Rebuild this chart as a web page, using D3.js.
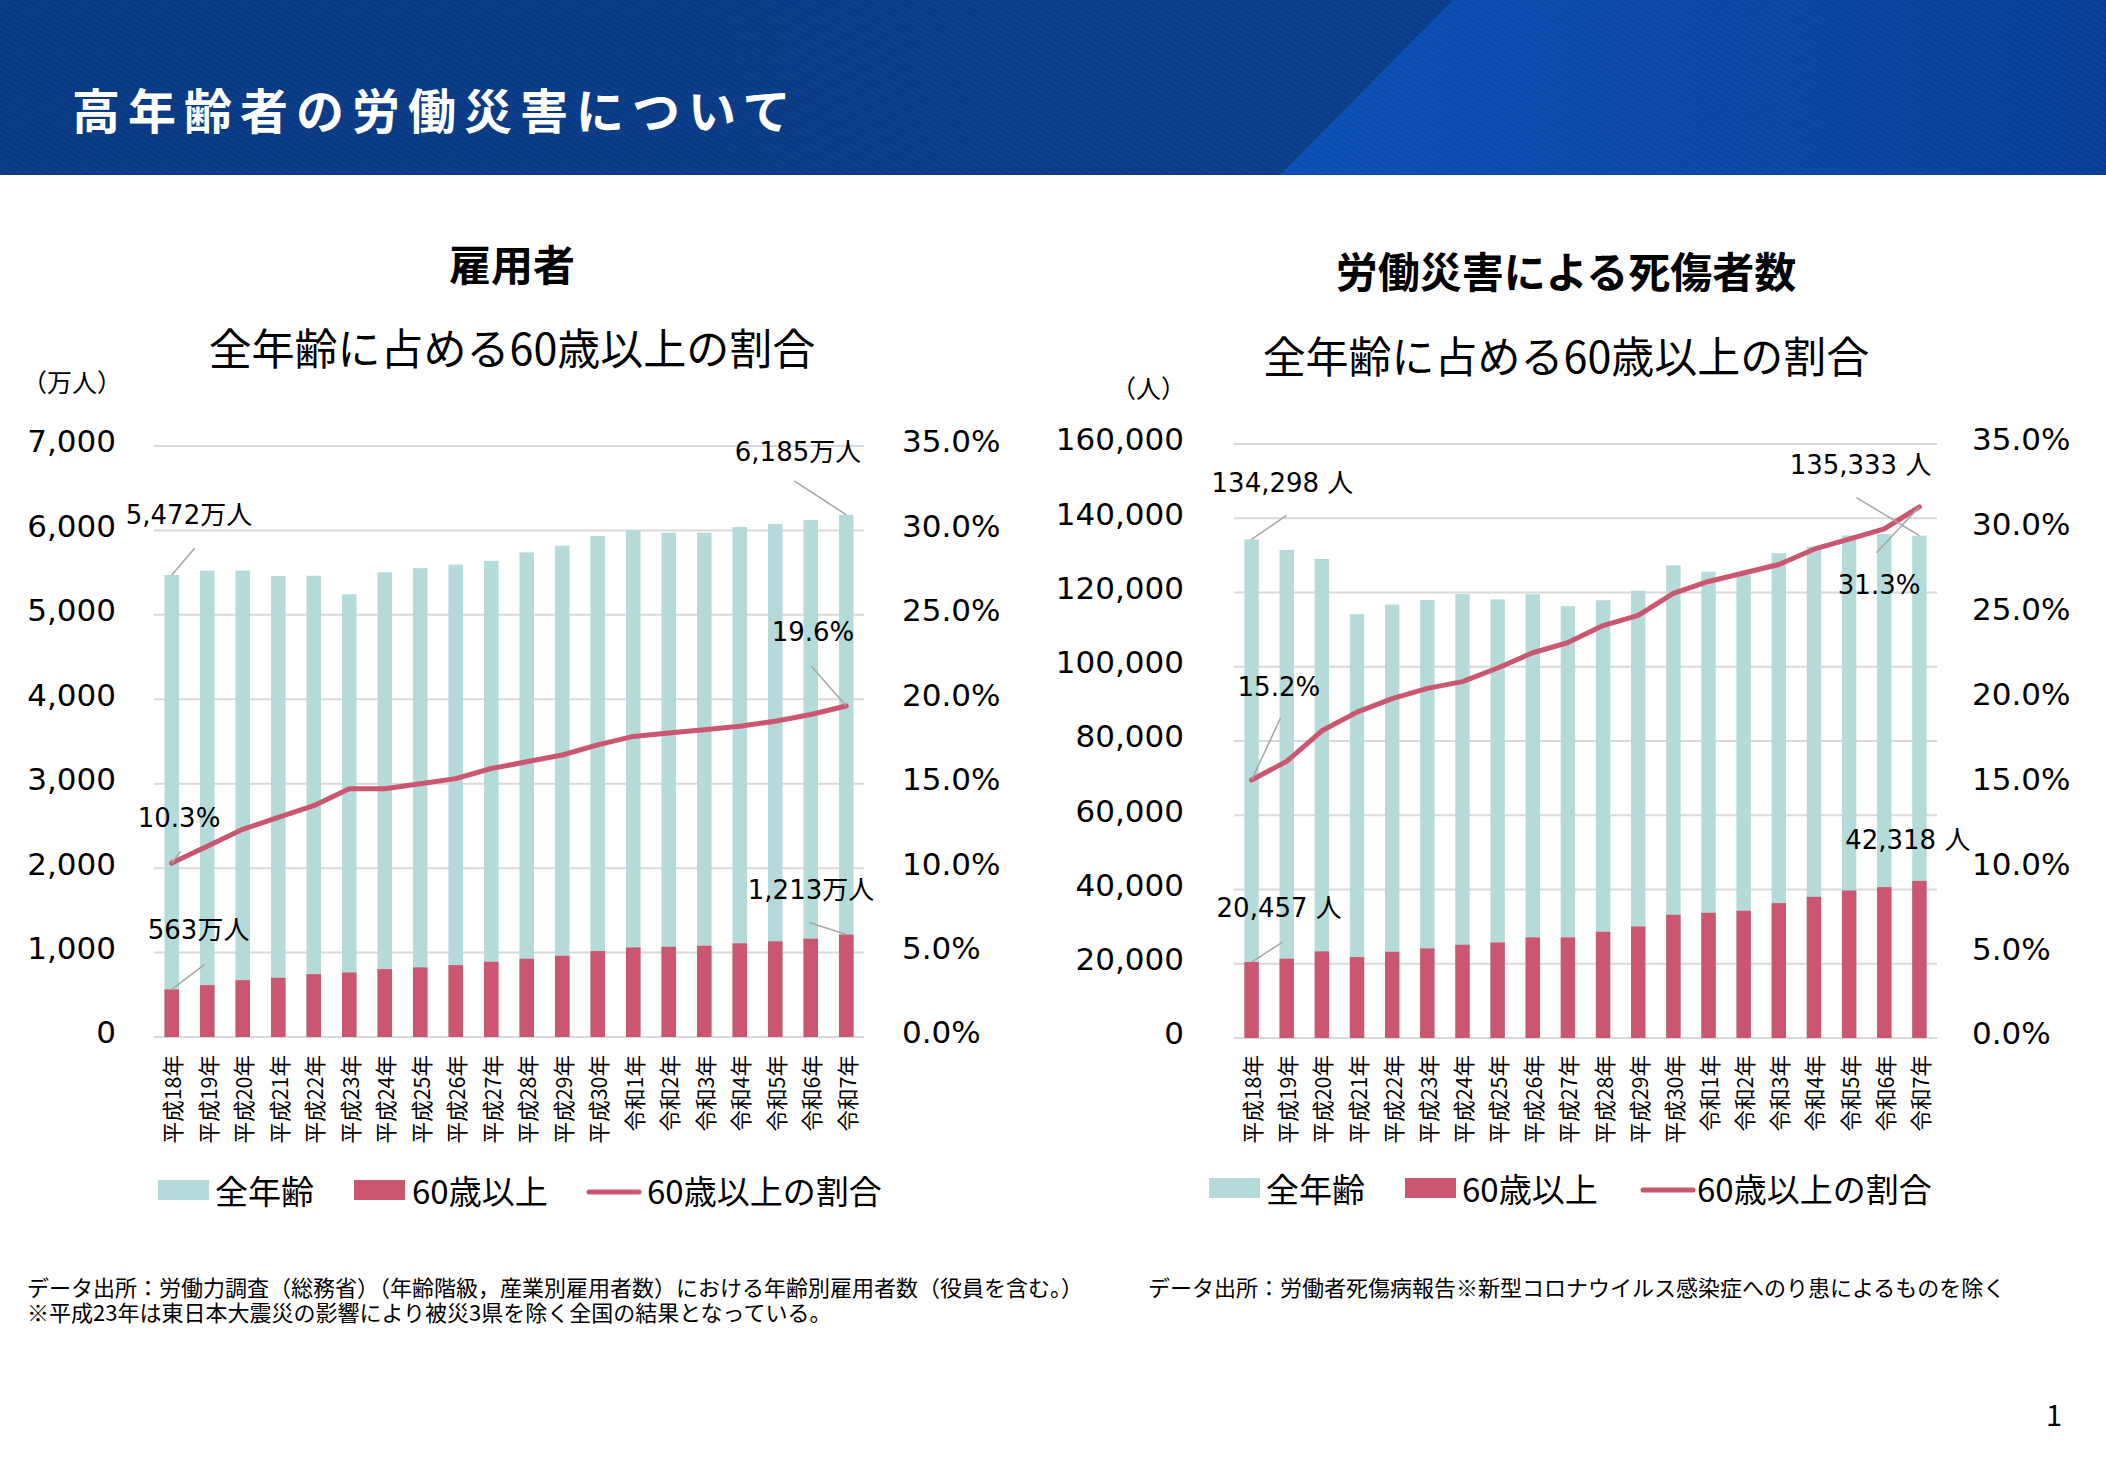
<!DOCTYPE html>
<html><head><meta charset="utf-8">
<script src="https://cdn.jsdelivr.net/npm/d3@7"></script>
<style>body{margin:0;background:#fff;} svg{display:block;}</style>
</head><body><svg id="c" width="2106" height="1466"></svg>
<script>
// ---------- DATA ----------
const categories = ["平成18年","平成19年","平成20年","平成21年","平成22年","平成23年","平成24年","平成25年","平成26年","平成27年","平成28年","平成29年","平成30年","令和1年","令和2年","令和3年","令和4年","令和5年","令和6年","令和7年"];

// 雇用者 (万人)
const employeesAll = [5472, 5523, 5524, 5460, 5463, 5244, 5504, 5553, 5595, 5640, 5740, 5819, 5936, 6004, 5973, 5973, 6041, 6076, 6123, 6185];
const employees60 = [563, 614, 673, 701, 744, 764, 804, 824, 851, 891, 927, 962, 1018, 1061, 1069, 1081, 1109, 1133, 1164, 1213];
const employeesRatio = [10.3, 11.3, 12.3, 13.0, 13.7, 14.7, 14.7, 15.0, 15.3, 15.9, 16.3, 16.7, 17.3, 17.8, 18.0, 18.2, 18.4, 18.7, 19.1, 19.6];

// 労働災害による死傷者数 (人)
const injuriesAll = [134298, 131478, 129026, 114152, 116733, 117958, 119576, 118157, 119535, 116311, 117910, 120460, 127329, 125611, 124800, 130586, 132355, 135371, 135718, 135333];
const injuries60 = [20457, 21350, 23320, 21800, 23230, 24130, 25120, 25740, 27090, 27090, 28610, 30050, 33190, 33730, 34270, 36330, 38030, 39740, 40630, 42318];
const injuriesRatio = [15.2, 16.3, 18.1, 19.2, 20.0, 20.6, 21.0, 21.8, 22.7, 23.3, 24.3, 24.9, 26.2, 26.9, 27.4, 27.9, 28.8, 29.4, 30.0, 31.3];

const legendLabels = ["全年齢", "60歳以上", "60歳以上の割合"];
const leftTicksEmp = [0,1000,2000,3000,4000,5000,6000,7000];
const leftTicksInj = [0,20000,40000,60000,80000,100000,120000,140000,160000];
const rightTicks = [0,5,10,15,20,25,30,35];

// ---------- STYLE ----------
const TEAL = "#b5dada";
const RED = "#cb5670";
const GRID = "#d9d9d9";
const LEADER = "#a6a6a6";
const NUMFONT = "'DejaVu Sans', 'Noto Sans CJK JP', sans-serif";
const JPFONT = "'Noto Sans CJK JP', sans-serif";

const svg = d3.select("#c");
const defs = svg.append("defs");

// header
const g1 = defs.append("linearGradient").attr("id","hdrL").attr("x1","0").attr("x2","1").attr("y1","0").attr("y2","0");
g1.append("stop").attr("offset","0%").attr("stop-color","#093a84");
g1.append("stop").attr("offset","100%").attr("stop-color","#0a3d8d");
const g2 = defs.append("linearGradient").attr("id","hdrR").attr("x1","0").attr("x2","1").attr("y1","0").attr("y2","0");
g2.append("stop").attr("offset","0%").attr("stop-color","#0b4fb5");
g2.append("stop").attr("offset","55%").attr("stop-color","#0947a6");
g2.append("stop").attr("offset","100%").attr("stop-color","#073e95");
const pat = defs.append("pattern").attr("id","stripes").attr("width",5).attr("height",5)
  .attr("patternUnits","userSpaceOnUse").attr("patternTransform","rotate(-60)");
pat.append("line").attr("x1",0).attr("y1",0).attr("x2",0).attr("y2",5).attr("stroke","#ffffff").attr("stroke-opacity",0.04).attr("stroke-width",2);

svg.append("rect").attr("x",0).attr("y",0).attr("width",2106).attr("height",175).attr("fill","url(#hdrL)");
svg.append("polygon").attr("points","1453,0 2106,0 2106,175 1280,175").attr("fill","url(#hdrR)");
svg.append("rect").attr("x",0).attr("y",0).attr("width",2106).attr("height",175).attr("fill","url(#stripes)");
svg.append("text").attr("x",72).attr("y",108).attr("dominant-baseline","central")
  .attr("font-family",JPFONT).attr("font-weight",700).attr("font-size",48)
  .attr("letter-spacing",8).attr("fill","#ffffff").text("高年齢者の労働災害について");

// ---------- CHART ----------
function drawChart(cfg) {
  const g = svg.append("g");
  const x = d3.scaleBand().domain(categories).range([cfg.x0, cfg.x1]).paddingInner(0.59).paddingOuter(0.295);
  const yL = d3.scaleLinear().domain([0, cfg.leftMax]).range([cfg.yBottom, cfg.yTop]);
  const yR = d3.scaleLinear().domain([0, 35]).range([cfg.yBottom, cfg.yTop]);
  const cx = c => x(c) + x.bandwidth()/2;

  // titles
  g.append("text").attr("x", cfg.titleX).attr("y", cfg.titleY).attr("text-anchor","middle").attr("dominant-baseline","central")
    .attr("font-family",JPFONT).attr("font-weight",700).attr("font-size",42).attr("fill","#000").text(cfg.title);
  g.append("text").attr("x", cfg.titleX).attr("y", cfg.subtitleY).attr("text-anchor","middle").attr("dominant-baseline","central")
    .attr("font-family",JPFONT).attr("font-size",43).attr("fill","#000").text("全年齢に占める60歳以上の割合");
  g.append("text").attr("x", cfg.unitX).attr("y", cfg.unitY).attr("text-anchor", cfg.unitAnchor).attr("dominant-baseline","central")
    .attr("font-family",JPFONT).attr("font-size",25).attr("fill","#000").text(cfg.unit);

  // grid
  g.append("g").selectAll("line").data(cfg.leftTicks).join("line")
    .attr("x1", cfg.x0).attr("x2", cfg.x1).attr("y1", d => yL(d)).attr("y2", d => yL(d))
    .attr("stroke", GRID).attr("stroke-width", 2);

  // left axis labels
  const axL = d3.axisLeft(yL).tickValues(cfg.leftTicks).tickFormat(d3.format(",")).tickSize(0).tickPadding(0);
  const gL = g.append("g").attr("transform", `translate(${cfg.leftLabelX},0)`).call(axL);
  gL.select(".domain").remove();
  gL.selectAll("text").attr("font-family", NUMFONT).attr("font-size", 31).attr("fill","#000").attr("dy","0.32em")
    .attr("y", -4);

  // right axis labels
  const axR = d3.axisRight(yR).tickValues(rightTicks).tickFormat(d => d.toFixed(1) + "%").tickSize(0).tickPadding(0);
  const gR = g.append("g").attr("transform", `translate(${cfg.rightLabelX},0)`).call(axR);
  gR.select(".domain").remove();
  gR.selectAll("text").attr("font-family", NUMFONT).attr("font-size", 31).attr("fill","#000").attr("dy","0.32em")
    .attr("y", -4);

  // bars
  g.append("g").selectAll("rect").data(cfg.totals).join("rect")
    .attr("x", (d,i) => x(categories[i])).attr("width", x.bandwidth())
    .attr("y", d => yL(d)).attr("height", d => yL(0) - yL(d)).attr("fill", TEAL);
  g.append("g").selectAll("rect").data(cfg.seniors).join("rect")
    .attr("x", (d,i) => x(categories[i])).attr("width", x.bandwidth())
    .attr("y", d => yL(d)).attr("height", d => yL(0) - yL(d)).attr("fill", RED);

  // line
  const line = d3.line().x((d,i) => cx(categories[i])).y(d => yR(d));
  g.append("path").attr("d", line(cfg.ratios)).attr("fill","none").attr("stroke", RED)
    .attr("stroke-width", 5).attr("stroke-linejoin","round").attr("stroke-linecap","round");

  // x labels
  g.append("g").selectAll("text").data(categories).join("text")
    .attr("transform", c => `translate(${cx(c)},${cfg.xLabelY}) rotate(-90)`)
    .attr("text-anchor","end").attr("dominant-baseline","central")
    .attr("font-family", JPFONT).attr("font-size", 21.5).attr("fill","#000").text(c => c);

  // annotations
  cfg.annotations.forEach(a => {
    const arr = a.series === "total" ? cfg.totals : a.series === "senior" ? cfg.seniors : cfg.ratios;
    const v = arr[a.i];
    const px = cx(categories[a.i]);
    const py = a.series === "ratio" ? yR(v) : yL(v);
    const txt = a.series === "ratio" ? v.toFixed(1) + "%" : d3.format(",")(v) + cfg.suffix;
    if (a.lx !== undefined) {
      g.append("line").attr("x1", px + a.lx).attr("y1", py + a.ly).attr("x2", px).attr("y2", py)
        .attr("stroke", LEADER).attr("stroke-width", 1.5);
    }
    g.append("text").attr("x", px + a.dx).attr("y", py + a.dy).attr("text-anchor", a.anchor)
      .attr("dominant-baseline","central").attr("font-family", NUMFONT).attr("font-size", 26)
      .attr("fill","#000").text(txt);
  });

  // legend
  const L = cfg.legend;
  g.append("rect").attr("x", L.s1).attr("y", L.y - 10).attr("width", 51).attr("height", 20).attr("fill", TEAL);
  g.append("rect").attr("x", L.s2).attr("y", L.y - 10).attr("width", 51).attr("height", 20).attr("fill", RED);
  g.append("line").attr("x1", L.s3 + 2).attr("x2", L.s3 + 52).attr("y1", L.y + 2).attr("y2", L.y + 2)
    .attr("stroke", RED).attr("stroke-width", 5).attr("stroke-linecap","round");
  [[L.t1, legendLabels[0]], [L.t2, legendLabels[1]], [L.t3, legendLabels[2]]].forEach(([tx, label]) => {
    g.append("text").attr("x", tx).attr("y", L.y).attr("dominant-baseline","central")
      .attr("font-family", JPFONT).attr("font-size", 33).attr("fill","#000").text(label);
  });
}

drawChart({
  x0: 154, x1: 864, yTop: 446, yBottom: 1037, leftMax: 7000, leftTicks: leftTicksEmp,
  totals: employeesAll, seniors: employees60, ratios: employeesRatio, suffix: "万人",
  title: "雇用者", titleX: 512, titleY: 262, subtitleY: 346,
  unit: "（万人）", unitX: 22, unitAnchor: "start", unitY: 381,
  leftLabelX: 116, rightLabelX: 902, xLabelY: 1055,
  annotations: [
    {series:"total", i:0, anchor:"start", dx:-46, dy:-60, lx:23, ly:-27},
    {series:"total", i:19, anchor:"end", dx:15, dy:-63, lx:-52, ly:-34},
    {series:"ratio", i:19, anchor:"end", dx:8, dy:-74, lx:-35, ly:-40},
    {series:"ratio", i:0, anchor:"start", dx:-34, dy:-45, lx:9, ly:-12},
    {series:"senior", i:0, anchor:"start", dx:-24, dy:-59, lx:33, ly:-25},
    {series:"senior", i:19, anchor:"end", dx:28, dy:-45, lx:-37, ly:-12}
  ],
  legend: {y: 1190, s1: 158, t1: 215, s2: 354, t2: 412, s3: 587, t3: 647}
});

drawChart({
  x0: 1234, x1: 1937, yTop: 444, yBottom: 1038, leftMax: 160000, leftTicks: leftTicksInj,
  totals: injuriesAll, seniors: injuries60, ratios: injuriesRatio, suffix: " 人",
  title: "労働災害による死傷者数", titleX: 1566, titleY: 269, subtitleY: 354,
  unit: "（人）", unitX: 1186, unitAnchor: "end", unitY: 387,
  leftLabelX: 1184, rightLabelX: 1972, xLabelY: 1055,
  annotations: [
    {series:"total", i:0, anchor:"start", dx:-40, dy:-56, lx:35, ly:-24},
    {series:"total", i:19, anchor:"end", dx:12, dy:-71, lx:-63, ly:-38},
    {series:"ratio", i:19, anchor:"end", dx:1, dy:78, lx:-43, ly:46},
    {series:"ratio", i:0, anchor:"start", dx:-14, dy:-93, lx:29, ly:-62},
    {series:"senior", i:0, anchor:"start", dx:-35, dy:-54, lx:31, ly:-20},
    {series:"senior", i:19, anchor:"end", dx:51, dy:-41}
  ],
  legend: {y: 1188, s1: 1209, t1: 1266, s2: 1405, t2: 1462, s3: 1641, t3: 1697}
});

// footnotes
const notes = svg.append("g").attr("font-family", JPFONT).attr("font-size", 22).attr("fill", "#000");
notes.append("text").attr("x", 27).attr("y", 1286).attr("dominant-baseline","central")
  .text("データ出所：労働力調査（総務省）（年齢階級，産業別雇用者数）における年齢別雇用者数（役員を含む。）");
notes.append("text").attr("x", 27).attr("y", 1311).attr("dominant-baseline","central")
  .text("※平成23年は東日本大震災の影響により被災3県を除く全国の結果となっている。");
notes.append("text").attr("x", 1148).attr("y", 1286).attr("dominant-baseline","central")
  .text("データ出所：労働者死傷病報告※新型コロナウイルス感染症へのり患によるものを除く");
svg.append("text").attr("x", 2062).attr("y", 1413).attr("text-anchor","end").attr("dominant-baseline","central")
  .attr("font-family", JPFONT).attr("font-size", 29).attr("fill","#000").text("1");
</script></body></html>
